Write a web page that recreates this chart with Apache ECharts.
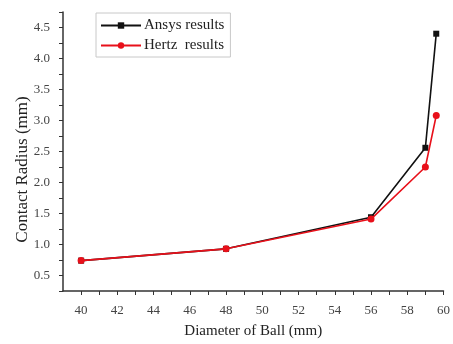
<!DOCTYPE html>
<html>
<head>
<meta charset="utf-8">
<script src="https://cdn.jsdelivr.net/npm/echarts@6/dist/echarts.min.js"></script>
<style>
  html, body { margin: 0; padding: 0; background: #fff; }
  #chart { width: 453px; height: 344px; }
</style>
</head>
<body>
<div id="chart"></div>
<script>
// Ball diameter (mm) at which each contact radius was evaluated
const diameters = [40, 48, 56, 59, 59.6];
// Contact radius (mm) from the finite element model
const ansysRadius = [0.74, 0.93, 1.44, 2.56, 4.40];
// Contact radius (mm) from Hertz theory
const hertzRadius = [0.74, 0.93, 1.41, 2.25, 3.08];
const seriesNames = ['Ansys results', 'Hertz  results'];
const xTitle = 'Diameter of Ball (mm)';
const yTitle = 'Contact Radius (mm)';

const pairs = (xs, ys) => xs.map((x, i) => [x, ys[i]]);
const serif = '"Liberation Serif", "DejaVu Serif", serif';

const chart = echarts.init(document.getElementById('chart'), null, { renderer: 'canvas' });
chart.setOption({
  animation: false,
  backgroundColor: '#ffffff',
  grid: { left: 63, right: 6, top: 12, bottom: 49, containLabel: false },
  legend: {
    orient: 'vertical',
    left: 96,
    top: 13,
    itemWidth: 40,
    itemHeight: 8,
    itemGap: 5,
    padding: [5, 6, 4, 4],
    borderColor: '#c8c8c8',
    borderWidth: 1,
    textStyle: { fontFamily: serif, fontSize: 15, color: '#222', padding: [0, 0, 0, -2] },
    data: seriesNames
  },
  xAxis: {
    type: 'value',
    min: 39,
    max: 60,
    interval: 1,
    name: xTitle,
    nameLocation: 'middle',
    nameGap: 33,
    nameTextStyle: { fontFamily: serif, fontSize: 15, color: '#222' },
    axisLine: { show: true, lineStyle: { color: '#333', width: 1.5 } },
    axisTick: { show: true, length: 4, lineStyle: { color: '#333' } },
    axisLabel: {
      fontFamily: serif, fontSize: 13, color: '#444', margin: 13,
      showMinLabel: false,
      formatter: v => (v % 2 === 0 ? String(v) : '')
    },
    splitLine: { show: false }
  },
  yAxis: {
    type: 'value',
    min: 0.25,
    max: 4.75,
    interval: 0.25,
    name: yTitle,
    nameLocation: 'middle',
    nameGap: 32,
    nameMoveOverlap: false,
    nameTextStyle: { fontFamily: serif, fontSize: 17, color: '#222', padding: [0, 36, 0, 0] },
    axisLine: { show: true, lineStyle: { color: '#333', width: 1.5 } },
    axisTick: { show: true, length: 4, lineStyle: { color: '#333' } },
    axisLabel: {
      fontFamily: serif, fontSize: 13, color: '#444', margin: 13,
      formatter: v => (Math.abs(v * 2 - Math.round(v * 2)) < 1e-6 ? v.toFixed(1) : '')
    },
    splitLine: { show: false }
  },
  series: [
    {
      name: seriesNames[0],
      type: 'line',
      data: pairs(diameters, ansysRadius),
      symbol: 'rect',
      symbolSize: 6,
      itemStyle: { color: '#111' },
      lineStyle: { color: '#111', width: 1.6 },
      z: 2
    },
    {
      name: seriesNames[1],
      type: 'line',
      data: pairs(diameters, hertzRadius),
      symbol: 'circle',
      symbolSize: 7,
      itemStyle: { color: '#e8101a' },
      lineStyle: { color: '#e8101a', width: 1.6 },
      z: 3
    }
  ]
});
</script>
</body>
</html>
